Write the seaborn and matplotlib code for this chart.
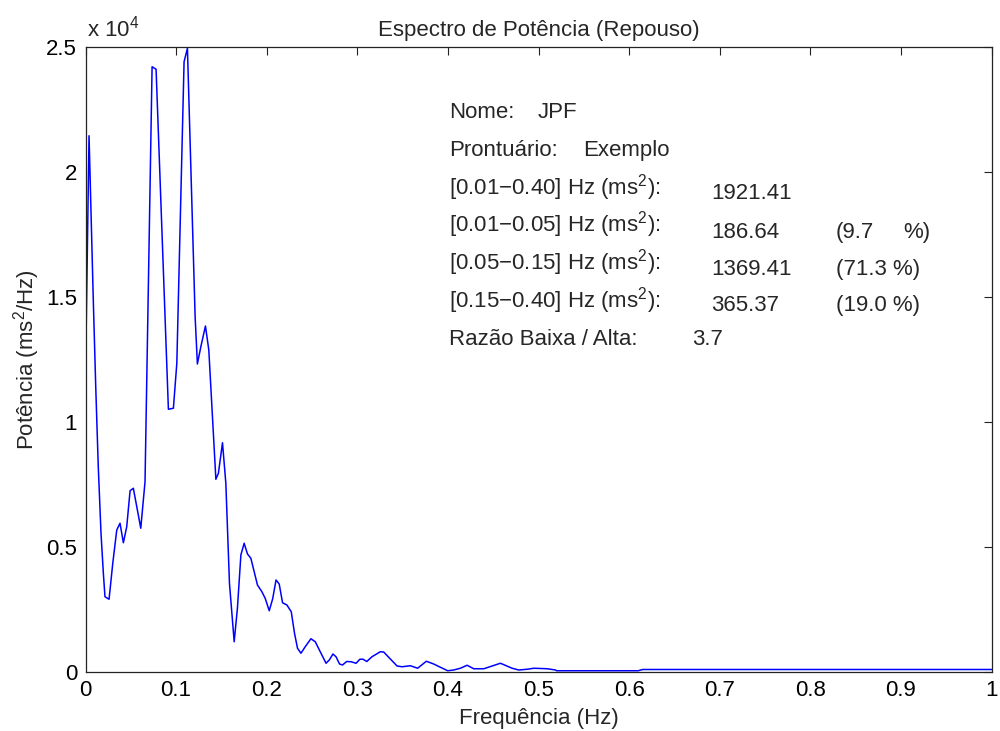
import numpy as np
import pandas as pd
import matplotlib
matplotlib.use("Agg")
import matplotlib.pyplot as plt
import seaborn as sns

# Power spectral density of the resting RR series (Hz, ms^2/Hz)
freq_hz = [
    0.0, 0.0039, 0.0086, 0.0113, 0.0141, 0.0171, 0.0197, 0.0215, 0.0260, 0.0301,
    0.0345, 0.0381, 0.0418, 0.0455, 0.0492, 0.0528, 0.0566, 0.0610, 0.0657, 0.0735,
    0.0779, 0.0915, 0.0970, 0.1008, 0.1088, 0.1125, 0.1210, 0.1235, 0.1273, 0.1324,
    0.1361, 0.1439, 0.1467, 0.1512, 0.1549, 0.1589, 0.1641, 0.1677, 0.1715, 0.1751,
    0.1788, 0.1825, 0.1862, 0.1898, 0.1947, 0.1983, 0.2028, 0.2066, 0.2103, 0.2138,
    0.2175, 0.2223, 0.2271, 0.2307, 0.2340, 0.2378, 0.2425, 0.2488, 0.2536, 0.2591,
    0.2655, 0.2691, 0.2731, 0.2765, 0.2804, 0.2837, 0.2882, 0.2930, 0.2987, 0.3028,
    0.3064, 0.3105, 0.3162, 0.3254, 0.3291, 0.3357, 0.3439, 0.3494, 0.3586, 0.3666,
    0.3762, 0.3843, 0.3917, 0.3998, 0.4064, 0.4138, 0.4212, 0.4285, 0.4396, 0.4488,
    0.4580, 0.4709, 0.4782, 0.4875, 0.4948, 0.5096, 0.5188, 0.5200, 0.6100, 0.6150,
    1.0,
]
power = [
    11840, 21450, 14880, 11410, 8210, 5560, 3950, 3010, 2910, 4350,
    5680, 5950, 5170, 5810, 7250, 7350, 6610, 5750, 7610, 24210,
    24110, 10510, 10550, 12350, 24410, 24950, 14210, 12320, 13010, 13840,
    12880, 7710, 7950, 9170, 7550, 3550, 1210, 2560, 4680, 5150,
    4720, 4550, 4010, 3480, 3210, 2950, 2450, 2930, 3680, 3520,
    2770, 2680, 2410, 1550, 950, 750, 1010, 1330, 1210, 810,
    350, 480, 720, 610, 320, 280, 420, 410, 350, 510,
    510, 420, 610, 810, 800, 550, 240, 210, 250, 150,
    430, 320, 190, 50, 80, 150, 270, 130, 130, 240,
    350, 150, 80, 110, 150, 130, 80, 50, 50, 100,
    100,
]

x_ticks = [0, 0.1, 0.2, 0.3, 0.4, 0.5, 0.6, 0.7, 0.8, 0.9, 1.0]
x_tick_labels = ["0", "0.1", "0.2", "0.3", "0.4", "0.5", "0.6", "0.7", "0.8", "0.9", "1"]
y_ticks = [0, 5000, 10000, 15000, 20000, 25000]
y_tick_labels = ["0", "0.5", "1", "1.5", "2", "2.5"]

# Summary of band powers
band_labels = ["[0.01\u22120.40] Hz (ms$^2$):", "[0.01\u22120.05] Hz (ms$^2$):",
               "[0.05\u22120.15] Hz (ms$^2$):", "[0.15\u22120.40] Hz (ms$^2$):"]
band_values = ["1921.41", "186.64", "1369.41", "365.37"]
band_pcts = ["", "(9.7", "(71.3 %)", "(19.0 %)"]
patient_name = "JPF"
record_id = "Exemplo"
lf_hf_ratio = "3.7"

sns.set_theme(style="white")
plt.rcParams["font.family"] = ["Liberation Sans", "DejaVu Sans"]
plt.rcParams["mathtext.fontset"] = "custom"
plt.rcParams["mathtext.rm"] = "Liberation Sans"
plt.rcParams["mathtext.it"] = "Liberation Sans:italic"
plt.rcParams["mathtext.bf"] = "Liberation Sans:bold"

W, H = 1000, 731
fig = plt.figure(figsize=(W / 100, H / 100), dpi=100)
ax = fig.add_axes([85.5 / W, 1 - 672 / H, 906 / W, 625 / H])

df = pd.DataFrame({"freq": freq_hz, "power": power})
sns.lineplot(data=df, x="freq", y="power", ax=ax, color="#0000ff", lw=1.1,
             sort=False, estimator=None)

ax.set_xlim(0, 1)
ax.set_ylim(0, 25000)
ax.set_xticks(x_ticks)
ax.set_xticklabels(x_tick_labels)
ax.set_yticks(y_ticks)
ax.set_yticklabels(y_tick_labels)
ax.tick_params(direction="in", length=6, width=0.8, colors="#222222",
               labelcolor="black", labelsize=16, top=True, right=True, pad=6)
for s in ax.spines.values():
    s.set_visible(True)
    s.set_color("#222222")
    s.set_linewidth(0.9)

ax.set_xlabel("Frequência (Hz)", fontsize=16, labelpad=5)
ax.set_ylabel("Potência (ms$^2$/Hz)", fontsize=16, labelpad=3)
ax.set_title("Espectro de Potência (Repouso)", fontsize=16, pad=8)


def ftext(px, py, s, **kw):
    fig.text(px / W, 1 - py / H, s, fontsize=16, va="baseline", ha="left", **kw)


ftext(87, 36, "x 10$^{4}$")

ftext(449, 118, "Nome:")
ftext(538, 118, patient_name)
ftext(449, 156, "Prontuário:")
ftext(583, 156, record_id)

label_y = [194, 232, 270, 307]
value_y = [199, 238, 275, 311]
for lab, val, pct, ly, vy in zip(band_labels, band_values, band_pcts, label_y, value_y):
    ftext(449, ly, lab)
    ftext(711, vy, val)
    if pct:
        ftext(836, vy, pct)
ftext(903, value_y[1], "%)")

ftext(449, 345, "Razão Baixa / Alta:")
ftext(692, 345, lf_hf_ratio)

fig.savefig("out.png", dpi=100)
